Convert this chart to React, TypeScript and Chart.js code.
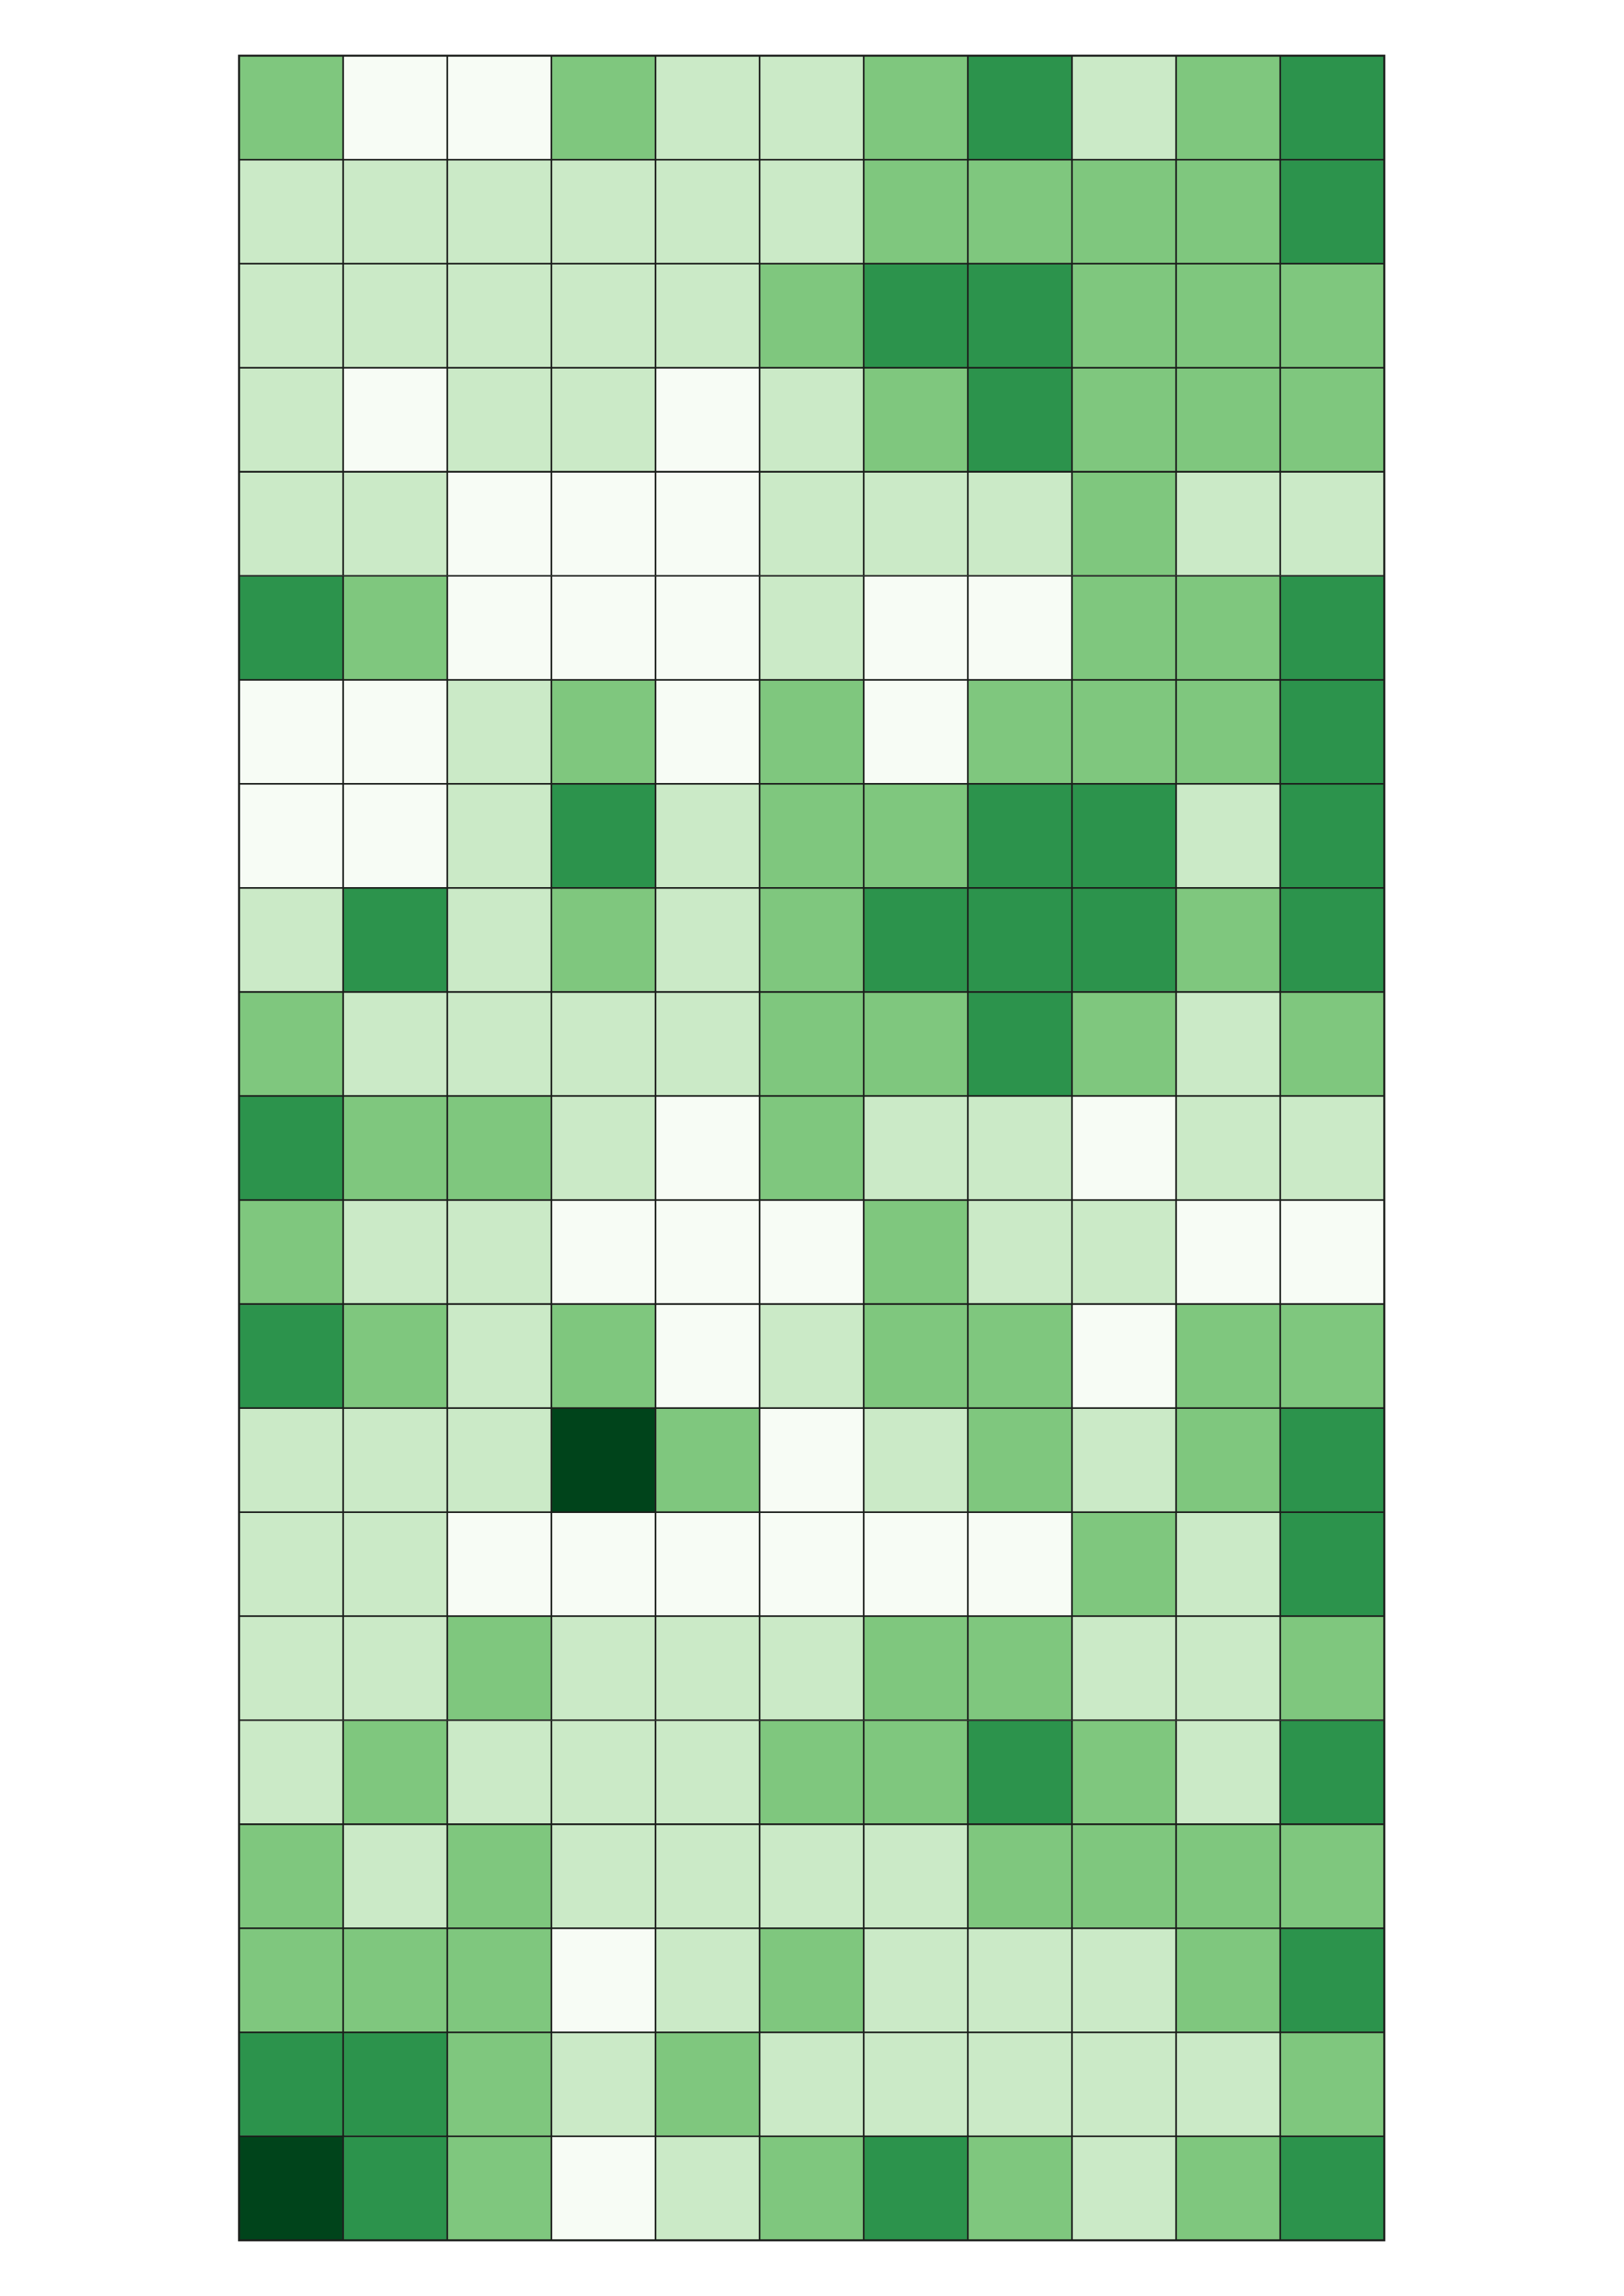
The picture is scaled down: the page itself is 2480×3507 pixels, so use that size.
import React, { useEffect, useRef } from "react";
import { Chart, registerables } from "chart.js";

Chart.register(...registerables);

// Colour levels: 0 = palest ... 4 = darkest
const palette = ["#f7fcf5", "#cbeac7", "#7fc77e", "#2c934c", "#00441b"];

const columns = ["C1", "C2", "C3", "C4", "C5", "C6", "C7", "C8", "C9", "C10", "C11"];
const rowLabels = [
  "R1", "R2", "R3", "R4", "R5", "R6", "R7", "R8", "R9", "R10", "R11",
  "R12", "R13", "R14", "R15", "R16", "R17", "R18", "R19", "R20", "R21",
];

const row01 = [2, 0, 0, 2, 1, 1, 2, 3, 1, 2, 3];
const row02 = [1, 1, 1, 1, 1, 1, 2, 2, 2, 2, 3];
const row03 = [1, 1, 1, 1, 1, 2, 3, 3, 2, 2, 2];
const row04 = [1, 0, 1, 1, 0, 1, 2, 3, 2, 2, 2];
const row05 = [1, 1, 0, 0, 0, 1, 1, 1, 2, 1, 1];
const row06 = [3, 2, 0, 0, 0, 1, 0, 0, 2, 2, 3];
const row07 = [0, 0, 1, 2, 0, 2, 0, 2, 2, 2, 3];
const row08 = [0, 0, 1, 3, 1, 2, 2, 3, 3, 1, 3];
const row09 = [1, 3, 1, 2, 1, 2, 3, 3, 3, 2, 3];
const row10 = [2, 1, 1, 1, 1, 2, 2, 3, 2, 1, 2];
const row11 = [3, 2, 2, 1, 0, 2, 1, 1, 0, 1, 1];
const row12 = [2, 1, 1, 0, 0, 0, 2, 1, 1, 0, 0];
const row13 = [3, 2, 1, 2, 0, 1, 2, 2, 0, 2, 2];
const row14 = [1, 1, 1, 4, 2, 0, 1, 2, 1, 2, 3];
const row15 = [1, 1, 0, 0, 0, 0, 0, 0, 2, 1, 3];
const row16 = [1, 1, 2, 1, 1, 1, 2, 2, 1, 1, 2];
const row17 = [1, 2, 1, 1, 1, 2, 2, 3, 2, 1, 3];
const row18 = [2, 1, 2, 1, 1, 1, 1, 2, 2, 2, 2];
const row19 = [2, 2, 2, 0, 1, 2, 1, 1, 1, 2, 3];
const row20 = [3, 3, 2, 1, 2, 1, 1, 1, 1, 1, 2];
const row21 = [4, 3, 2, 0, 1, 2, 3, 2, 1, 2, 3];

const rows = [
  row01, row02, row03, row04, row05, row06, row07, row08, row09, row10, row11,
  row12, row13, row14, row15, row16, row17, row18, row19, row20, row21,
];

const lineColor = "#1c1f1c";

const outline = {
  id: "outline",
  afterDatasetsDraw(chart: any) {
    const { ctx, chartArea } = chart;
    ctx.save();
    ctx.strokeStyle = lineColor;
    ctx.lineWidth = 3;
    ctx.strokeRect(chartArea.left, chartArea.top, chartArea.right - chartArea.left, chartArea.bottom - chartArea.top);
    ctx.restore();
  },
};

export default function App() {
  const ref = useRef<HTMLCanvasElement | null>(null);
  useEffect(() => {
    if (!ref.current) return;
    const datasets = columns.map((name, c) => ({
      label: name,
      data: rows.map(() => 1),
      backgroundColor: rows.map((r) => palette[r[c]]),
      borderColor: lineColor,
      borderWidth: 1.6,
      borderSkipped: false as const,
      categoryPercentage: 1,
      barPercentage: 1,
    }));
    const chart = new Chart(ref.current, {
      type: "bar",
      data: { labels: rowLabels, datasets },
      options: {
        indexAxis: "y",
        animation: false,
        responsive: false,
        maintainAspectRatio: false,
        layout: { padding: { left: 365, right: 366, top: 85, bottom: 85 } },
        plugins: { legend: { display: false }, tooltip: { enabled: false } },
        scales: {
          x: { type: "linear", stacked: true, min: 0, max: columns.length, display: false },
          y: { type: "category", stacked: true, display: false },
        },
      },
      plugins: [outline],
    });
    return () => chart.destroy();
  }, []);
  return (
    <div style={{ position: "absolute", left: 0, top: 0, width: 2480, height: 3507, background: "#ffffff" }}>
      <canvas ref={ref} width={2480} height={3507} style={{ display: "block", width: 2480, height: 3507 }} />
    </div>
  );
}
